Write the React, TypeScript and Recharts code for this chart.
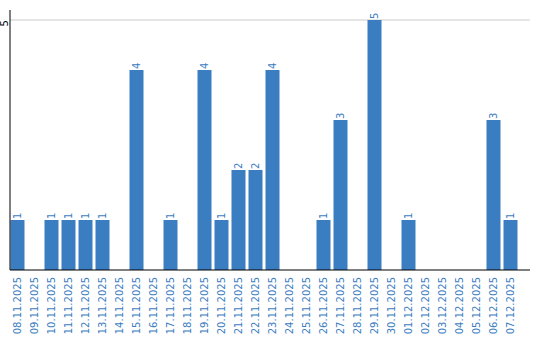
import { BarChart, Bar, XAxis, YAxis, CartesianGrid, LabelList } from "recharts";

const dates = [
  "08.11.2025", "09.11.2025", "10.11.2025", "11.11.2025", "12.11.2025",
  "13.11.2025", "14.11.2025", "15.11.2025", "16.11.2025", "17.11.2025",
  "18.11.2025", "19.11.2025", "20.11.2025", "21.11.2025", "22.11.2025",
  "23.11.2025", "24.11.2025", "25.11.2025", "26.11.2025", "27.11.2025",
  "28.11.2025", "29.11.2025", "30.11.2025", "01.12.2025", "02.12.2025",
  "03.12.2025", "04.12.2025", "05.12.2025", "06.12.2025", "07.12.2025",
];
const counts = [1, 0, 1, 1, 1, 1, 0, 4, 0, 1, 0, 4, 1, 2, 2, 4, 0, 0, 1, 3, 0, 5, 0, 1, 0, 0, 0, 0, 3, 1];
const yTicks = [5];

const data = dates.map((date, i) => ({ date, count: counts[i] }));

const blue = "#3b7dc1";
const font = "DejaVu Sans, Verdana, sans-serif";

const DateTick = (props: any) => {
  const { x, y, payload } = props;
  return (
    <text
      transform={`translate(${x},${y + 7}) rotate(-90)`}
      textAnchor="end"
      dominantBaseline="central"
      fill={blue}
      fontSize={10}
      fontFamily={font}
    >
      {payload.value}
    </text>
  );
};

const CountTick = (props: any) => {
  const { y, payload } = props;
  return (
    <text
      transform={`translate(4,${y}) rotate(-90)`}
      textAnchor="end"
      dominantBaseline="central"
      fill="#000"
      fontSize={10}
      fontFamily={font}
    >
      {payload.value}
    </text>
  );
};

const ValueLabel = (props: any) => {
  const { x, y, width, value } = props;
  if (!value) return null;
  const cx = x + width / 2;
  return (
    <text
      transform={`translate(${cx},${y - 1}) rotate(-90)`}
      textAnchor="start"
      dominantBaseline="central"
      fill={blue}
      fontSize={10}
      fontFamily={font}
    >
      {value}
    </text>
  );
};

const App = () => {
  return (
    <div style={{ position: "fixed", left: 0, top: 0, background: "#fff" }}>
      <BarChart
        width={540}
        height={340}
        data={data}
        margin={{ top: 10, right: 10, bottom: 0, left: 0 }}
      >
        <CartesianGrid vertical={false} stroke="#cccccc" horizontalValues={yTicks} />
        <XAxis
          dataKey="date"
          interval={0}
          height={70}
          tickSize={0}
          tickMargin={0}
          tickLine={false}
          stroke="#000"
          padding={{ left: -1.5, right: 11.5 }}
          tick={<DateTick />}
        />
        <YAxis
          width={10}
          domain={[0, 5.2]}
          ticks={yTicks}
          tickSize={0}
          tickLine={false}
          stroke="#000"
          tick={<CountTick />}
        />
        <Bar dataKey="count" fill={blue} barSize={14} isAnimationActive={false}>
          <LabelList dataKey="count" content={<ValueLabel />} />
        </Bar>
      </BarChart>
    </div>
  );
};

export default App;
